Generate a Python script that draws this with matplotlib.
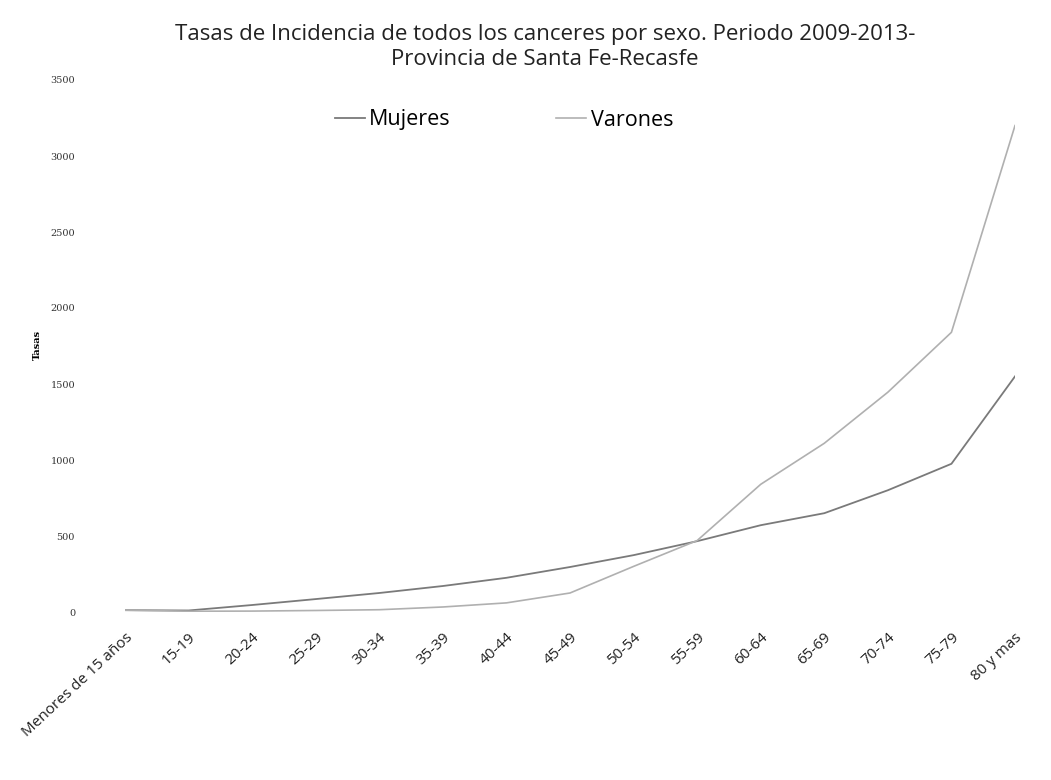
import matplotlib.pyplot as plt
import numpy as np

plt.rcParams['font.family'] = ['Open Sans', 'DejaVu Sans']

grupos = ["Menores de 15 años", "15-19", "20-24", "25-29", "30-34", "35-39",
          "40-44", "45-49", "50-54", "55-59", "60-64", "65-69", "70-74",
          "75-79", "80 y mas"]
mujeres = [12, 10, 46, 85, 125, 171, 225, 296, 374, 466, 571, 650, 801, 975, 1550]
varones = [12, 5, 6, 10, 15, 33, 60, 125, 300, 470, 840, 1110, 1446, 1840, 3200]
yticks = [0, 500, 1000, 1500, 2000, 2500, 3000, 3500]

titulo = "Tasas de Incidencia de todos los canceres por sexo. Periodo 2009-2013-\nProvincia de Santa Fe-Recasfe"

fig = plt.figure(figsize=(10.51, 7.8), dpi=100)
ax = fig.add_axes([125 / 1051, 168 / 780, 890 / 1051, 532 / 780])

x = np.arange(len(grupos))
ax.plot(x, mujeres, color='#7a7a7a', lw=1.3, label='Mujeres')
ax.plot(x, varones, color='#b0b0b0', lw=1.2, label='Varones')

ax.set_xlim(0, len(grupos) - 1)
ax.set_ylim(0, 3500)
ax.set_yticks(yticks)
ax.set_yticklabels([str(v) for v in yticks], fontsize=7, color='#333333',
                   family=['DejaVu Serif'])
ax.tick_params(axis='y', length=0, pad=36)
ax.set_xticks(x)
ax.set_xticklabels(grupos, rotation=43, ha='right', rotation_mode='anchor',
                   fontsize=11, color='#222222')
ax.tick_params(axis='x', length=0, pad=13)

for s in ax.spines.values():
    s.set_visible(False)

fig.text(37 / 1051, 1 - 345 / 780, "Tasas", rotation=90, fontsize=7,
         fontweight='bold', ha='center', va='center', family=['DejaVu Serif'])

fig.text(545 / 1051, 1 - 47 / 780, titulo, ha='center', va='center',
         fontsize=16, color='#222222', linespacing=1.25)

fig.legend(loc='center', bbox_to_anchor=(504 / 1051, 1 - 120 / 780), ncol=2,
           frameon=False, fontsize=15.5, handlelength=1.4, handletextpad=0.2,
           columnspacing=4.9)

fig.savefig('out.png', dpi=100)
